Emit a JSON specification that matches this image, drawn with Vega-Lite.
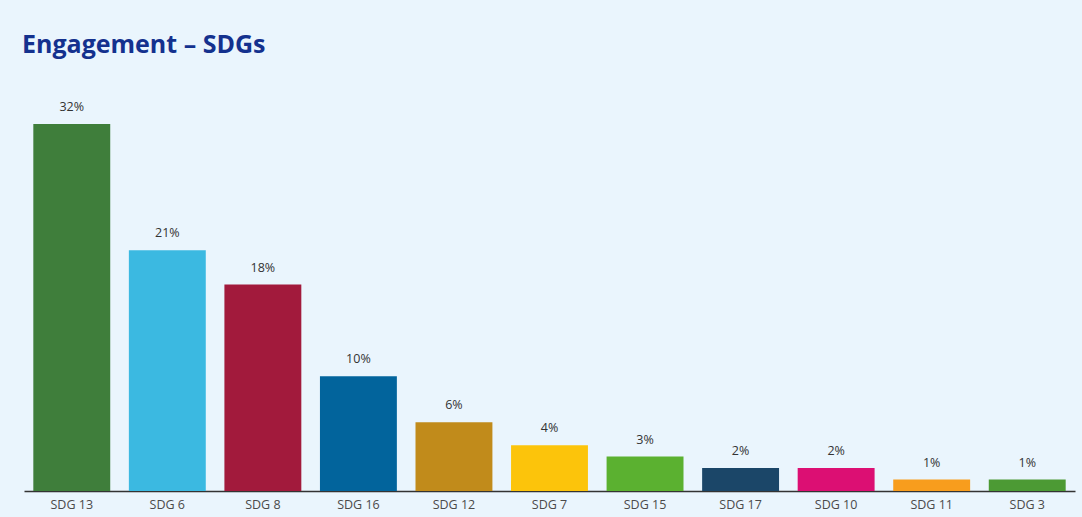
{
  "$schema": "https://vega.github.io/schema/vega-lite/v6.json",
  "width": 1051,
  "height": 367,
  "autosize": {"type": "none"},
  "padding": {"left": 24, "top": 124, "right": 7, "bottom": 26},
  "background": "#EAF5FD",
  "title": {
    "text": "Engagement – SDGs",
    "anchor": "start",
    "frame": "group",
    "font": "Open Sans",
    "fontSize": 25,
    "fontWeight": "bold",
    "color": "#14318E",
    "baseline": "alphabetic",
    "offset": 23,
    "dx": -2
  },
  "data": {
    "values": [
      {"sdg": "SDG 13", "pct": 0.32, "color": "#3F7E3B"},
      {"sdg": "SDG 6", "pct": 0.21, "color": "#3BB9E1"},
      {"sdg": "SDG 8", "pct": 0.18, "color": "#A21A3C"},
      {"sdg": "SDG 16", "pct": 0.10, "color": "#02649C"},
      {"sdg": "SDG 12", "pct": 0.06, "color": "#C18B1B"},
      {"sdg": "SDG 7", "pct": 0.04, "color": "#FCC40B"},
      {"sdg": "SDG 15", "pct": 0.03, "color": "#5BB130"},
      {"sdg": "SDG 17", "pct": 0.02, "color": "#1B4668"},
      {"sdg": "SDG 10", "pct": 0.02, "color": "#DC0F73"},
      {"sdg": "SDG 11", "pct": 0.01, "color": "#F89D1D"},
      {"sdg": "SDG 3", "pct": 0.01, "color": "#4C9A34"}
    ]
  },
  "encoding": {
    "x": {
      "field": "sdg",
      "type": "nominal",
      "sort": null,
      "scale": {"paddingInner": 0.195, "paddingOuter": 0.0975},
      "axis": {
        "title": null,
        "labelAngle": 0,
        "labelFont": "Open Sans",
        "labelFontSize": 12.5,
        "labelColor": "#4A4A4A",
        "labelPadding": 7,
        "ticks": false,
        "domainColor": "#333333",
        "domainWidth": 1.5
      }
    },
    "y": {
      "field": "pct",
      "type": "quantitative",
      "scale": {"domain": [0, 0.32], "nice": false},
      "axis": null
    }
  },
  "layer": [
    {
      "mark": {"type": "bar"},
      "encoding": {
        "color": {"field": "color", "type": "nominal", "scale": null}
      }
    },
    {
      "mark": {
        "type": "text",
        "baseline": "alphabetic",
        "dy": -13,
        "font": "Open Sans",
        "fontSize": 12.5,
        "color": "#333333"
      },
      "encoding": {
        "text": {"field": "pct", "type": "quantitative", "format": ".0%"}
      }
    }
  ],
  "view": {"stroke": null},
  "config": {"font": "Open Sans"}
}
